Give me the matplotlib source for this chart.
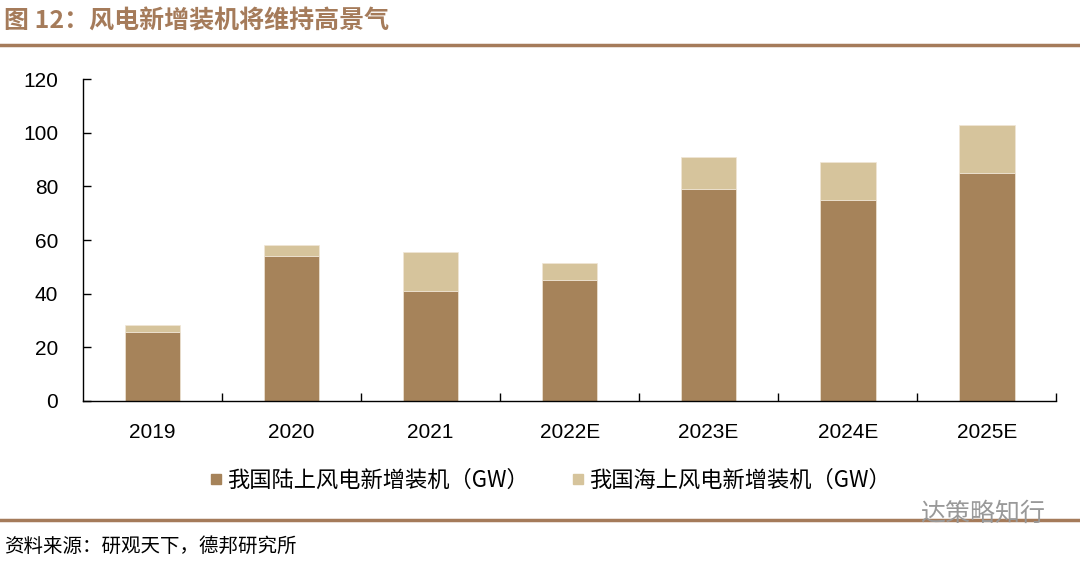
import numpy as np
import matplotlib.pyplot as plt
from matplotlib.lines import Line2D

plt.rcParams['font.family'] = ['Liberation Sans', 'Noto Sans CJK SC', 'DejaVu Sans']

years = ['2019', '2020', '2021', '2022E', '2023E', '2024E', '2025E']
onshore = [25.7, 54.0, 41.0, 45.0, 79.0, 75.0, 85.0]
offshore = [2.6, 4.1, 14.5, 6.5, 12.0, 14.0, 18.0]
labels = ['我国陆上风电新增装机（GW）', '我国海上风电新增装机（GW）']
c_on = '#a6835a'
c_off = '#d6c49c'
brown = '#a57b5a'

fig = plt.figure(figsize=(10.8, 5.62), dpi=100)
ax = fig.add_axes([0.0769, 0.2865, 0.9011, 0.5729])

x = np.arange(len(years))
ax.bar(x, onshore, width=0.4, color=c_on, edgecolor='#f0e6d6', linewidth=0.5)
ax.bar(x, offshore, width=0.4, bottom=onshore, color=c_off, edgecolor='#f0e6d6', linewidth=0.5)

ax.set_xlim(-0.5, len(years) - 0.5)
ax.set_ylim(0, 120)
ax.set_yticks(range(0, 121, 20))
ax.set_xticks(x)
ax.set_xticklabels(years)
ax.set_xticks(np.arange(0.5, len(years), 1), minor=True)
ax.tick_params(axis='x', which='major', length=0, pad=16, labelsize=15)
ax.tick_params(axis='x', which='minor', direction='in', length=6, width=1)
ax.tick_params(axis='y', direction='in', length=6, width=1, pad=18, labelsize=15)
for s in ['top', 'right']:
    ax.spines[s].set_visible(False)
for s in ['left', 'bottom']:
    ax.spines[s].set_linewidth(1)

handles = [Line2D([], [], marker='s', linestyle='', markersize=7, color=c_on),
           Line2D([], [], marker='s', linestyle='', markersize=7, color=c_off)]
fig.legend(handles, labels, loc='center', bbox_to_anchor=(0.506, 0.145), ncol=2,
           frameon=False, handletextpad=-0.1, columnspacing=1.6, handlelength=1.2,
           prop={'family': ['Noto Sans CJK SC'], 'size': 16})

fig.text(0.004, 0.962, '图 12：风电新增装机将维持高景气', color=brown, fontsize=18,
         fontweight='bold', va='center', family=['Noto Sans CJK SC'])
fig.add_artist(Line2D([0, 1], [0.92, 0.92], color=brown, linewidth=2.5))
fig.add_artist(Line2D([0, 1], [0.075, 0.075], color=brown, linewidth=2.5))
fig.text(0.004, 0.028, '资料来源：研观天下，德邦研究所', fontsize=14, va='center',
         family=['Noto Sans CJK SC'])
fig.text(0.968, 0.085, '达策略知行', fontsize=18, color='#999999', ha='right', va='center',
         family=['Noto Sans CJK SC'])

fig.savefig('out.png', dpi=100)
